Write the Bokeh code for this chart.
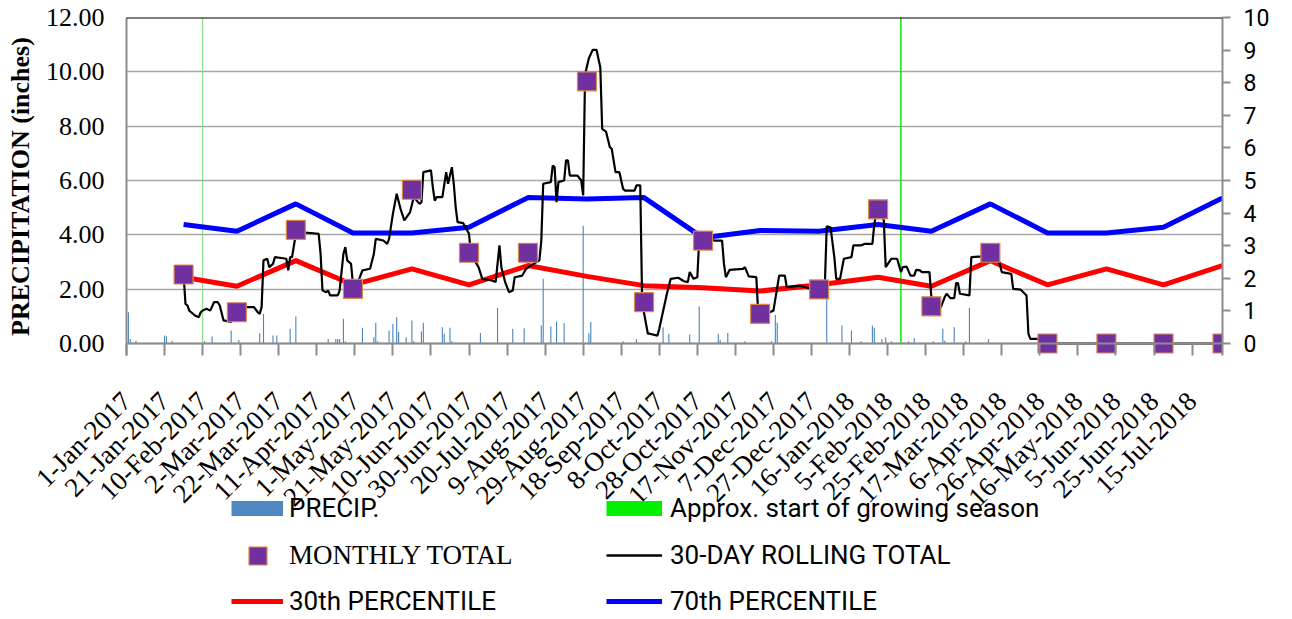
import math
import pandas as pd
from bokeh.plotting import figure
from bokeh.layouts import column
from bokeh.models import (Range1d, LinearAxis, FixedTicker, Span, Legend, LegendItem,
                          NumeralTickFormatter)
from bokeh.embed import file_html
from bokeh.resources import INLINE

START = "2017-01-01"
END = "2018-07-31"

MONTH_END = ["2017-01-31", "2017-02-28", "2017-03-31", "2017-04-30", "2017-05-31", "2017-06-30",
             "2017-07-31", "2017-08-31", "2017-09-30", "2017-10-31", "2017-11-30", "2017-12-31",
             "2018-01-31", "2018-02-28", "2018-03-31", "2018-04-30", "2018-05-31", "2018-06-30",
             "2018-07-31"]
MONTHLY_TOTAL = [2.54, 1.15, 4.18, 2.01, 5.66, 3.34, 3.34, 9.65, 1.52, 3.79, 1.09, 1.99,
                 4.94, 1.37, 3.34, 0.0, 0.0, 0.0, 0.0]
PCT30 = [2.44, 2.11, 3.05, 2.16, 2.75, 2.16, 2.87, 2.47, 2.13, 2.05, 1.93, 2.16,
         2.44, 2.11, 3.05, 2.16, 2.75, 2.16, 2.87]
PCT70 = [4.38, 4.13, 5.14, 4.07, 4.07, 4.28, 5.37, 5.32, 5.37, 3.89, 4.16, 4.13,
         4.38, 4.13, 5.14, 4.07, 4.07, 4.28, 5.36]

# 30-day rolling total (days since 1-Jan-2017, inches)
ROLL_DAY = [30, 31, 32, 33, 34, 36, 38, 39, 40, 42, 44, 46, 48, 49, 51, 55, 56, 60, 67, 69,
            70, 71, 72, 74, 75, 77, 78, 84, 85, 86, 87, 89, 91, 101, 102, 103, 105, 106, 107, 111,
            112, 114, 115, 116, 118, 119, 120, 122, 124, 128, 130, 131, 135, 137, 138, 140, 142, 144, 146, 149,
            151, 154, 155, 156, 160, 161, 162, 163, 166, 168, 169, 171, 172, 173, 174, 177, 180, 181, 185, 187,
            192, 194, 196, 197, 199, 201, 203, 204, 208, 210, 214, 217, 218, 219, 223, 224, 225, 226, 227, 230,
            231, 232, 233, 237, 239, 240, 241, 243, 245, 247, 249, 250, 252, 254, 255, 257, 259, 261, 262, 267,
            268, 270, 271, 274, 275, 279, 280, 284, 286, 290, 293, 295, 296, 298, 300, 301, 305, 309, 313, 314,
            315, 317, 324, 325, 327, 331, 332, 338, 340, 343, 346, 347, 354, 361, 367, 368, 370, 372, 373, 375,
            377, 381, 382, 386, 388, 392, 393, 394, 397, 398, 399, 402, 405, 407, 408, 410, 412, 414, 415, 417,
            418, 422, 423, 428, 430, 431, 433, 435, 436, 437, 438, 443, 444, 448, 456, 458, 460, 465, 466, 470,
            473, 474, 475, 479, 481, 576]
ROLL_TOTAL = [2.54, 1.46, 1.40, 1.21, 1.15, 1.03, 0.97, 1.15, 1.21, 1.28, 1.21, 1.52, 1.52, 1.40, 0.85, 0.79, 1.21, 1.34, 1.34, 1.15,
              1.09, 1.34, 3.06, 3.12, 2.81, 2.93, 3.18, 3.12, 2.69, 3.18, 3.18, 4.04, 4.10, 4.04, 3.30, 1.95, 1.89, 1.95, 1.77, 1.77,
              1.95, 3.30, 3.55, 3.06, 2.93, 2.20, 2.13, 2.32, 2.69, 2.75, 3.30, 3.85, 3.79, 3.67, 3.85, 4.77, 5.51, 4.96, 4.53, 4.83,
              5.39, 5.14, 5.20, 6.31, 6.37, 5.75, 5.26, 5.39, 5.39, 6.31, 5.88, 6.49, 5.88, 5.02, 4.47, 4.43, 4.04, 3.30, 2.81, 2.38,
              2.32, 2.26, 3.61, 2.81, 2.26, 1.89, 1.95, 2.44, 2.50, 2.75, 2.93, 3.06, 3.79, 5.88, 5.94, 6.55, 6.49, 5.20, 5.94, 6.00,
              6.74, 6.74, 6.18, 6.18, 6.00, 5.45, 9.90, 10.50, 10.81, 10.81, 10.17, 7.90, 7.80, 7.23, 7.17, 6.31, 6.31, 5.69, 5.63, 5.63,
              5.82, 5.82, 1.50, 0.36, 0.36, 0.29, 0.54, 1.83, 2.38, 2.42, 2.29, 2.26, 2.63, 2.38, 2.44, 3.85, 3.85, 3.79, 3.79, 2.93,
              2.44, 2.71, 2.75, 2.81, 2.47, 2.44, 1.09, 1.15, 1.21, 2.50, 2.50, 2.07, 2.13, 1.98, 2.13, 4.31, 4.28, 3.18, 2.38, 2.38,
              3.12, 3.18, 3.61, 3.61, 3.67, 3.67, 4.40, 4.77, 4.77, 4.53, 2.81, 3.12, 3.12, 2.63, 2.81, 2.83, 2.50, 2.50, 2.71, 2.69,
              2.63, 2.63, 1.71, 1.34, 1.71, 1.83, 1.67, 1.67, 2.22, 2.22, 1.83, 1.77, 3.18, 3.20, 3.20, 3.18, 2.63, 2.56, 2.01, 1.98,
              1.77, 0.36, 0.17, 0.17, 0.0, 0.0]

# daily precipitation (days since 1-Jan-2017, inches)
PRECIP_DAY = [1, 2, 5, 20, 21, 24, 41, 45, 55, 59, 70, 72, 77, 79, 86, 89, 106, 110, 111, 112,
              114, 115, 124, 130, 131, 132, 138, 140, 142, 143, 147, 150, 151, 155, 156, 166, 167, 170, 171, 186,
              195, 203, 209, 218, 219, 223, 226, 230, 240, 243, 244, 261, 268, 282, 285, 296, 301, 311, 312, 316,
              325, 339, 341, 342, 368, 376, 381, 386, 392, 393, 397, 399, 402, 411, 414, 424, 429, 430, 435, 441,
              443, 453]
PRECIP_IN = [1.15, 0.17, 0.10, 0.29, 0.26, 0.10, 0.08, 0.26, 0.48, 0.13, 0.38, 1.09, 0.29, 0.29, 0.54, 0.99, 0.17, 0.17, 0.17, 0.17,
             0.91, 0.08, 0.58, 0.23, 0.76, 0.08, 0.48, 0.72, 0.97, 0.42, 0.23, 0.85, 0.08, 0.44, 0.76, 0.60, 0.36, 0.58, 0.08, 0.39,
             1.31, 0.54, 0.56, 0.66, 2.38, 0.63, 0.81, 0.75, 4.33, 0.38, 0.79, 0.08, 0.17, 0.60, 0.36, 0.33, 1.36, 0.36, 0.13, 0.39,
             0.08, 0.08, 1.05, 0.76, 1.70, 0.66, 0.48, 0.08, 0.66, 0.58, 0.17, 0.23, 0.08, 0.08, 0.20, 0.08, 0.54, 0.10, 0.60, 0.08,
             1.31, 0.17]

GROWING_START = ["2017-02-10", "2018-02-12"]
Y_TICKS = [0, 2, 4, 6, 8, 10, 12]
Y2_TICKS = [0, 1, 2, 3, 4, 5, 6, 7, 8, 9, 10]
X_TICK_EVERY = "20D"

t0 = pd.Timestamp(START)


def day(s):
    return (pd.Timestamp(s) - t0).days


x_end = day(END)
month_x = [day(s) for s in MONTH_END]
grow_x = [day(s) for s in GROWING_START]
tick_dates = pd.date_range(START, END, freq=X_TICK_EVERY)
tick_x = [(d - t0).days for d in tick_dates]
tick_lbl = {x: f"{d.day}-{d.strftime('%b-%Y')}" for x, d in zip(tick_x, tick_dates)}

W = 1280
H = 616
H_LEG = 122
FRAME_TOP = 17
FRAME_BOTTOM = 355          # frame extends a little below 0 so markers at 0 are not clipped
FRAME_LEFT = 126
FRAME_RIGHT = 1222
ZERO_Y = 343
Y_MAX = Y_TICKS[-1]
Y_MIN = -Y_MAX * (FRAME_BOTTOM - ZERO_Y) / (ZERO_Y - FRAME_TOP)

p = figure(width=W, height=H, output_backend="svg", toolbar_location=None,
           x_range=Range1d(0, x_end), y_range=Range1d(Y_MIN, Y_MAX),
           min_border_left=FRAME_LEFT, min_border_right=W - FRAME_RIGHT,
           min_border_top=FRAME_TOP, min_border_bottom=H - FRAME_BOTTOM)
p.outline_line_color = None
p.extra_y_ranges = {"y2": Range1d(Y_MIN * 10 / 12, 10)}

GRAY = "#8c8c8c"
SERIF = "Liberation Serif"
SANS = "Roboto"

# x axis (ticks reach up to the zero line)
xa = p.xaxis[0]
xa.ticker = FixedTicker(ticks=tick_x)
xa.major_label_overrides = tick_lbl
xa.major_label_orientation = math.pi / 4
xa.major_label_text_font = SERIF
xa.major_label_text_font_size = "27px"
xa.major_label_text_color = "black"
xa.major_label_standoff = 41
xa.minor_tick_line_color = None
xa.major_tick_out = 0
xa.major_tick_in = FRAME_BOTTOM - ZERO_Y
xa.major_tick_line_color = GRAY
xa.major_tick_line_width = 2
xa.axis_line_color = None

# left axis
ya = p.yaxis[0]
ya.ticker = FixedTicker(ticks=Y_TICKS)
ya.formatter = NumeralTickFormatter(format="0.00")
ya.major_label_text_font = SERIF
ya.major_label_text_font_size = "26px"
ya.major_label_text_color = "black"
ya.major_label_standoff = 22
ya.major_tick_out = 0
ya.major_tick_in = 0
ya.minor_tick_line_color = None
ya.axis_line_color = GRAY
ya.axis_line_width = 2
ya.axis_label = "PRECIPITATION (inches)"
ya.axis_label_text_font = SERIF
ya.axis_label_text_font_style = "bold"
ya.axis_label_text_font_size = "26px"
ya.axis_label_text_color = "black"
ya.axis_label_standoff = 8

# right axis
ra = LinearAxis(y_range_name="y2", ticker=FixedTicker(ticks=Y2_TICKS))
ra.major_label_text_font = SANS
ra.major_label_text_font_size = "23px"
ra.major_label_text_color = "black"
ra.major_label_standoff = 13
ra.major_tick_out = 8
ra.major_tick_in = 0
ra.major_tick_line_color = GRAY
ra.major_tick_line_width = 2
ra.minor_tick_line_color = None
ra.axis_line_color = GRAY
ra.axis_line_width = 2
p.add_layout(ra, "right")

p.xgrid.visible = False
p.ygrid.ticker = FixedTicker(ticks=Y_TICKS)
p.ygrid.grid_line_color = "#a6a6a6"
p.ygrid.grid_line_width = 1.5
p.add_layout(Span(location=Y_MAX, dimension="width", line_color="black", line_width=2))
p.add_layout(Span(location=0, dimension="width", line_color=GRAY, line_width=2))

BAR = "#4f87c1"
GREEN = "#00f000"
PURPLE = "#7030a0"
ORANGE = "#e0874a"
p.vbar(x=PRECIP_DAY, top=PRECIP_IN, width=0.6, fill_color=BAR, line_color=None)
p.segment(x0=grow_x, y0=[0] * len(grow_x), x1=grow_x, y1=[Y_MAX] * len(grow_x),
          line_color=["#7ddc7d", GREEN], line_width=[1, 1.5])
p.line(month_x, PCT30, line_color="#ff0000", line_width=5)
p.line(month_x, PCT70, line_color="#0000ff", line_width=5)
p.line(ROLL_DAY, ROLL_TOTAL, line_color="black", line_width=2.2)
p.scatter(month_x, MONTHLY_TOTAL, marker="square", size=19, fill_color=PURPLE,
          line_color=ORANGE, line_width=1.2)

# ---- legend overlay (transparent plot laid over the bottom of the chart) ----
lf = figure(width=W, height=H_LEG, output_backend="svg", toolbar_location=None,
            x_range=Range1d(0, FRAME_RIGHT - FRAME_LEFT), y_range=Range1d(0, H_LEG),
            x_axis_location=None, y_axis_location=None,
            min_border_left=FRAME_LEFT, min_border_right=W - FRAME_RIGHT,
            min_border_top=0, min_border_bottom=0)
lf.margin = (-H_LEG, 0, 0, 0)
lf.outline_line_color = None
lf.background_fill_alpha = 0
lf.border_fill_alpha = 0
lf.xgrid.visible = False
lf.ygrid.visible = False

OFF = [-10000, -9999]          # swatch renderers kept outside the visible range
sw_precip = lf.line(x=OFF, y=OFF, line_color=BAR, line_width=15)
sw_green = lf.line(x=OFF, y=OFF, line_color=GREEN, line_width=15)
sw_mon = lf.scatter(x=OFF, y=OFF, marker="square", fill_color=PURPLE, line_color=ORANGE, line_width=1.2)
sw_roll = lf.line(x=OFF, y=OFF, line_color="black", line_width=2.5)
sw_30 = lf.line(x=OFF, y=OFF, line_color="#ff0000", line_width=5)
sw_70 = lf.line(x=OFF, y=OFF, line_color="#0000ff", line_width=5)


def add_leg(rend, label, gx0, gw, gh, cy, text_x, font, size="26px"):
    lg = Legend(items=[LegendItem(label=label, renderers=[rend])],
                location=(gx0 - FRAME_LEFT, H - cy - gh / 2),
                glyph_width=gw, glyph_height=gh, label_height=gh,
                label_standoff=int(text_x - gx0 - gw), padding=0, margin=0, spacing=0,
                border_line_color=None, background_fill_alpha=0,
                label_text_font=font, label_text_font_size=size, label_text_color="black")
    lf.add_layout(lg)


add_leg(sw_precip, "PRECIP.", 231, 52, 30, 508, 289, SANS)
add_leg(sw_green, "Approx. start of growing season", 606, 56, 30, 508, 670, SANS)
add_leg(sw_mon, "MONTHLY TOTAL", 235, 45, 45, 555, 289, SERIF, "27px")
add_leg(sw_roll, "30-DAY ROLLING TOTAL", 606, 56, 30, 555, 670, SANS)
add_leg(sw_30, "30th PERCENTILE", 231, 52, 30, 601, 289, SANS)
add_leg(sw_70, "70th PERCENTILE", 606, 56, 30, 601, 670, SANS)

open("out.html", "w").write(file_html(column(p, lf, spacing=0), INLINE))
